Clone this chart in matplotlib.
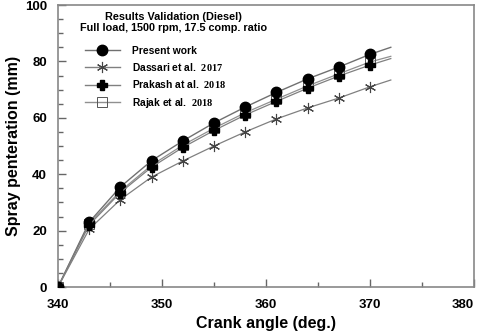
import matplotlib
matplotlib.use("Agg")
import matplotlib.pyplot as plt
from matplotlib.lines import Line2D

plt.rcParams['font.family'] = ['Liberation Sans', 'DejaVu Sans']
plt.rcParams['font.weight'] = 'bold'
plt.rcParams['mathtext.fontset'] = 'custom'
plt.rcParams['mathtext.rm'] = 'Liberation Serif:bold'

# crank angle (deg.), last point is the end of the drawn line (no marker)
crank = [340, 343, 346, 349, 352, 355, 358, 361, 364, 367, 370, 372]
present = [0, 23, 35.5, 44.8, 51.8, 58.2, 63.8, 69, 73.8, 78, 82.5, 85]
dassari = [0, 20.5, 31, 39, 44.7, 50, 55, 59.6, 63.5, 67, 71, 73.4]
prakash = [0, 22, 33.5, 42.5, 49.5, 55.5, 61, 65.8, 70.5, 74.8, 78.7, 81]
rajak = [0, 22.5, 34, 43.2, 50.3, 56.3, 61.8, 66.6, 71.3, 75.6, 79.8, 81.8]

legend_title = "Results Validation (Diesel)\nFull load, 1500 rpm, 17.5 comp. ratio"
labels = ["Present work", r"Dassari et al.  $\mathrm{2017}$",
          r"Prakash at al.  $\mathrm{2018}$", r"Rajak et al.  $\mathrm{2018}$"]

fig = plt.figure(figsize=(4.8, 3.31), dpi=100)
ax = fig.add_axes([58 / 480, 1 - 287 / 331, (474 - 58) / 480, (287 - 5) / 331])

n = len(crank) - 1
marks = list(range(n))
ax.plot(crank, present, color='#707070', lw=1.0, marker='o', ms=7.5,
        mfc='black', mec='black', markevery=marks, zorder=4)
ax.plot(crank, dassari, color='#808080', lw=0.9, marker=(6, 2, 0), ms=8,
        mec='#444444', mew=0.8, markevery=marks, zorder=3)
ax.plot(crank, prakash, color='#808080', lw=0.9, marker='P', ms=7.5,
        mfc='black', mec='black', markevery=marks, zorder=5)
ax.plot(crank, rajak, color='#909090', lw=0.9, marker='s', ms=7,
        mfc='none', mec='#555555', mew=0.7, markevery=marks, zorder=3)

ax.set_xlim(340, 380)
ax.set_ylim(0, 100)
ax.set_xticks([340, 350, 360, 370, 380])
ax.set_yticks([0, 20, 40, 60, 80, 100])
ax.set_xticks([345, 355, 365, 375], minor=True)
ax.set_yticks([v for v in range(5, 100, 5) if v % 20], minor=True)
ax.tick_params(direction='in', length=6, width=1, colors='#666666',
               labelcolor='black', labelsize=9.5)
ax.tick_params(axis='x', pad=9)
ax.tick_params(axis='y', pad=8)
ax.tick_params(which='minor', direction='in', length=3.5, width=1, colors='#666666')
ax.get_xticklabels()[-1].set_horizontalalignment('right')
for s in ax.spines.values():
    s.set_color('#888888')
    s.set_linewidth(1.2)

ax.set_xlabel("Crank angle (deg.)", fontsize=11.5, fontweight='bold', labelpad=3)
ax.set_ylabel("Spray penteration (mm)", fontsize=11.5, fontweight='bold', labelpad=3)

ax.text(0.278, 0.938, legend_title, transform=ax.transAxes, ha='center',
        va='center', multialignment='center', fontsize=7.8, fontweight='bold',
        linespacing=1.2)

handles = [
    Line2D([], [], color='#707070', lw=1, marker='o', ms=7.5, mfc='black', mec='black'),
    Line2D([], [], color='#808080', lw=1, marker=(6, 2, 0), ms=8, mec='#444444', mew=0.8),
    Line2D([], [], color='#808080', lw=1, marker='P', ms=7.5, mfc='black', mec='black'),
    Line2D([], [], color='#909090', lw=1, marker='s', ms=7, mfc='none', mec='#555555', mew=0.7),
]
leg = ax.legend(handles, labels, loc='upper left',
                bbox_to_anchor=(0.045, 0.885), frameon=False, fontsize=7.4,
                handlelength=3.4, labelspacing=0.52, handletextpad=1.2,
                borderpad=0.3)
for t in leg.get_texts():
    t.set_fontweight('bold')

fig.savefig("out.png", dpi=100)
